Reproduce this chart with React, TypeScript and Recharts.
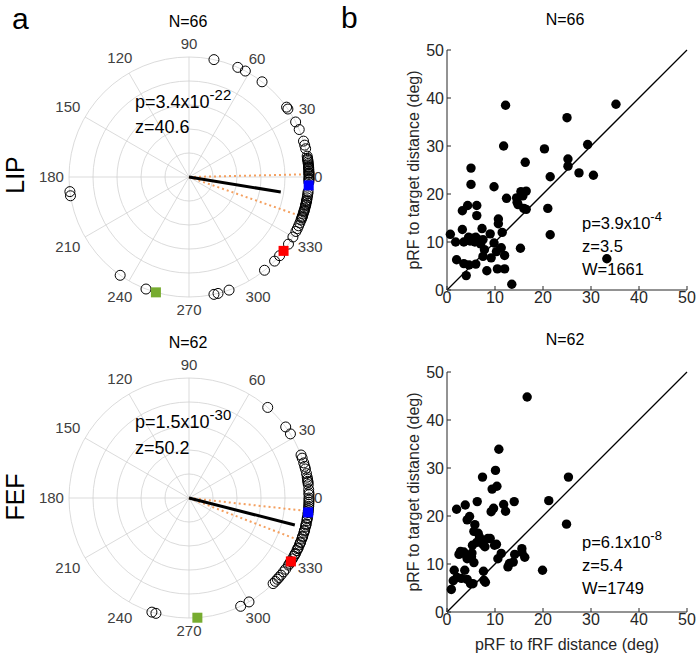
import React from 'react'
import {
  RadarChart, PolarGrid, PolarAngleAxis, PolarRadiusAxis,
  ScatterChart, Scatter, XAxis, YAxis, ReferenceLine, Label,
} from 'recharts'

const FONT = '"Liberation Sans", Arial, Helvetica, sans-serif'
const INK = '#262626'

// ---- panel a: preferred angle of every pRF (deg) ----
const thetaTicks = ['0', '30', '60', '90', '120', '150', '180', '210', '240', '270', '300', '330']
const ringRadii = [24, 48, 72, 96, 120]

const lipAngles = [
  78, 66, 62, 52.5, 35.6, 34.5, 27.3, 23.3, 17.4, 15.4, 13.6,
  10, 9, 8.5, 8, 7.3, 6.5, 5.8, 5, 4.6, 4.2, 3.5, 2.8, 2, 1.8, 1.2, 0.5, -0.5, -1, -1.5, -2.5,
  -7, -8, -9, -10, -11, -11.5, -12, -13, -13.5, -14, -15, -16, -16.5, -17, -18, -19, -19.5, -20, -21, -22.5, -24, -25.5, -27,
  -30, -34, -41, -44.5, -51, -70.5, -76, -78,
  187, 189, 235, 249,
]
const lipMean = [-9.3, 0.775] // angle, length
const lipCI = [1.3, -19.3]
const lipSquares = [-4, -38, 254] // blue, red, green

const fefAngles = [
  49, 36.3, 32.3, 21, 19.4, 17, 15.3, 14, 11.7, 10, 9, 8, 7.5, 6.4, 4, 2.5, 1.6, 0, -1, -2,
  -3, -4, -5, -6, -7, -8, -9.5, -10, -11, -12.5, -13, -14, -15.5, -16, -17, -18.5, -19, -20, -21.5, -22,
  -23, -24.5, -25, -26, -27.5, -28, -29, -30.5, -32, -33,
  -34, -36.4, -38, -40, -41.5, -42.6, -44, -45.5,
  -60, -64.5,
  252, 254,
]
const fefMean = [-14.3, 0.91]
const fefCI = [-6.3, -21]
const fefSquares = [-6.9, -31.9, 274]

const squareColors = ['#0000ff', '#ff0000', '#77ac30']

// ---- panel b: distances (deg) ----
const axisTicks = [0, 10, 20, 30, 40, 50]

const lipFrfDist = [
  0.7, 1.8, 2.0, 3.2, 3.2, 3.5, 3.5, 4.0, 4.3, 4.5,
  4.8, 4.6, 5.0, 5.0, 5.3, 5.8, 6.0, 6.2, 6.2, 6.0,
  6.5, 7.0, 7.3, 7.5, 7.5, 7.8, 8.3, 9.0, 9.2, 9.8,
  9.8, 10.3, 10.5, 10.7, 10.7, 11.3, 11.5, 11.8, 12.0, 12.0,
  12.2, 12.4, 13.5, 14.5, 14.6, 14.8, 15.3, 15.4, 15.8, 16.0,
  16.3, 16.5, 16.5, 20.3, 21.0, 21.5, 21.5, 25.0, 25.2, 25.2,
  27.5, 29.3, 30.5, 33.3, 35.2, 5.6,
]
const lipTargetDist = [
  11.6, 10.0, 6.3, 16.5, 12.6, 10.0, 5.5, 3.0, 17.6, 11.0,
  10.2, 5.2, 22.0, 25.4, 10.8, 10.0, 11.0, 17.6, 15.5, 5.4,
  10.5, 9.6, 12.8, 10.5, 7.0, 8.4, 4.0, 11.7, 6.7, 21.5,
  9.8, 8.0, 4.4, 14.8, 13.8, 8.8, 12.0, 30.0, 7.2, 4.4,
  38.5, 19.1, 1.2, 19.2, 18.3, 17.8, 8.7, 20.5, 19.6, 17.0,
  26.6, 20.6, 16.8, 29.4, 17.0, 11.5, 23.6, 35.9, 27.3, 25.8,
  24.4, 30.3, 23.9, 6.5, 38.7, 10.4,
]

const fefFrfDist = [
  0.9, 1.5, 1.3, 2.0, 2.1, 2.8, 3.0, 3.5, 3.7, 3.8,
  4.0, 4.2, 4.2, 4.2, 4.7, 4.9, 5.1, 5.2, 5.3, 5.4,
  5.6, 5.8, 5.6, 6.3, 6.5, 6.8, 7.2, 7.4, 7.5, 7.6,
  7.7, 7.9, 8.5, 9.0, 9.2, 9.4, 9.7, 10.1, 9.9, 10.3,
  10.4, 10.6, 10.8, 11.3, 11.8, 12.2, 12.7, 13.0, 13.8, 14.1,
  14.0, 15.6, 15.6, 16.2, 16.7, 19.9, 21.2, 24.9, 25.3, 2.5,
  6.2, 8.0,
]
const fefTargetDist = [
  4.7, 8.7, 6.5, 21.4, 7.2, 12.6, 7.0, 12.5, 8.7, 22.3,
  11.8, 11.1, 19.2, 6.8, 19.9, 5.9, 11.5, 12.3, 13.9, 5.9,
  10.3, 18.2, 16.8, 23.0, 16.4, 15.5, 15.0, 28.1, 14.1, 8.5,
  6.6, 13.6, 15.3, 15.3, 20.9, 25.6, 21.6, 29.5, 13.9, 14.1,
  26.2, 11.1, 33.9, 12.2, 22.4, 21.0, 9.4, 10.1, 10.4, 12.0,
  23.0, 13.2, 12.4, 11.4, 44.8, 8.7, 23.2, 18.3, 28.1, 12.0,
  14.5, 6.2,
]

// polar geometry
const BOX = 300
const C = 150
const R = 120

const toXY = (deg: number, r = 1) => ({
  x: r * Math.cos((deg * Math.PI) / 180),
  y: r * Math.sin((deg * Math.PI) / 180),
})

const ThetaTick = (props: any) => {
  const label = String(props.payload.value)
  const a = (Number(label) * Math.PI) / 180
  const r = 125 + Math.abs(Math.cos(a)) * label.length * 4.2 + Math.abs(Math.sin(a)) * 8
  return (
    <text x={C + r * Math.cos(a)} y={C - r * Math.sin(a)} dy="0.35em" textAnchor="middle"
      fontSize={15} fill="#404040" fontFamily={FONT}>
      {label}
    </text>
  )
}

const OpenCircle = (p: any) => (
  <circle cx={p.cx} cy={p.cy} r={5} fill="none" stroke="#000" strokeWidth={1} />
)

function PolarPanel({ left, top, angles, mean, ci, squares }: any) {
  const pts = angles.map((a: number) => toXY(a))
  const end = toXY(mean[0], mean[1])
  const ciEnds = ci.map((a: number) => toXY(a, 0.99))
  const sq = squares.map((a: number, i: number) => ({ ...toXY(a), fill: squareColors[i] }))

  return (
    <div style={{ position: 'absolute', left, top, width: BOX, height: BOX }}>
      <div style={{ position: 'absolute', left: 0, top: 0 }}>
        <RadarChart width={BOX} height={BOX} cx={C} cy={C} outerRadius={R} startAngle={0} endAngle={360}
          data={thetaTicks.map(t => ({ theta: t }))} margin={{ top: 0, right: 0, bottom: 0, left: 0 }}>
          <PolarGrid gridType="circle" polarRadius={ringRadii} stroke="#d2d2d2" strokeWidth={0.8} />
          <PolarAngleAxis dataKey="theta" tick={ThetaTick} tickLine={false} axisLine={false} />
          <PolarRadiusAxis domain={[0, 1]} tick={false} axisLine={false} />
        </RadarChart>
      </div>
      <div style={{ position: 'absolute', left: 0, top: 0 }}>
        <ScatterChart width={BOX} height={BOX} margin={{ top: C - R, right: C - R, bottom: C - R, left: C - R }}>
          <XAxis type="number" dataKey="x" domain={[-1, 1]} hide />
          <YAxis type="number" dataKey="y" domain={[-1, 1]} hide />
          {ciEnds.map((e: any, i: number) => (
            <ReferenceLine key={i} segment={[{ x: 0, y: 0 }, e]} ifOverflow="visible"
              stroke="#f4a060" strokeWidth={2} strokeDasharray="2 3" />
          ))}
          <ReferenceLine segment={[{ x: 0, y: 0 }, end]} ifOverflow="visible" stroke="#000" strokeWidth={3} />
          <Scatter data={pts} shape={OpenCircle} isAnimationActive={false} />
          <Scatter data={sq} isAnimationActive={false}
            shape={(p: any) => <rect x={p.cx - 5} y={p.cy - 5} width={10} height={10} fill={p.payload.fill} />} />
        </ScatterChart>
      </div>
    </div>
  )
}

const Dot = (p: any) => <circle cx={p.cx} cy={p.cy} r={4.7} fill="#000" />

const tickStyle = { fill: INK, fontSize: 16, fontFamily: FONT }

function DistPanel({ top, xs, ys, xLabel }: any) {
  const data = xs.map((x: number, i: number) => ({ x, y: ys[i] }))
  return (
    <div style={{ position: 'absolute', left: 390, top }}>
      <ScatterChart width={310} height={307} margin={{ top: 20, right: 13, bottom: 0, left: 0 }}>
        <XAxis type="number" dataKey="x" domain={[0, 50]} ticks={axisTicks} height={47}
          tick={tickStyle} axisLine={{ stroke: INK }} tickLine={{ stroke: INK }} tickSize={-4} tickMargin={6}>
          {xLabel && (
            <Label value={xLabel} position="insideBottom" offset={9}
              style={{ fill: INK, fontSize: 16, fontFamily: FONT }} />
          )}
        </XAxis>
        <YAxis type="number" dataKey="y" domain={[0, 50]} ticks={axisTicks} width={57}
          tick={tickStyle} axisLine={{ stroke: INK }} tickLine={{ stroke: INK }} tickSize={-4} tickMargin={7}>
          <Label value="pRF to target distance (deg)" angle={-90} position="insideLeft" offset={23}
            style={{ textAnchor: 'middle', fill: INK, fontSize: 16, fontFamily: FONT }} />
        </YAxis>
        <ReferenceLine segment={[{ x: 0, y: 0 }, { x: 50, y: 50 }]} stroke="#000" strokeWidth={1.3} />
        <Scatter data={data} shape={Dot} isAnimationActive={false} />
      </ScatterChart>
    </div>
  )
}

function StatText({ x, lines, size, supSize }: any) {
  return (
    <>
      {lines.map((l: any, i: number) => (
        <text key={i} x={x} y={l.y} fontSize={size} fill="#000" fontFamily={FONT}>
          {l.text}
          {l.sup && <tspan dy={-8} fontSize={supSize}>{l.sup}</tspan>}
        </text>
      ))}
    </>
  )
}

export default function App() {
  return (
    <div style={{ position: 'absolute', left: 0, top: 0, width: 700, height: 659, background: '#fff' }}>
      <PolarPanel left={189 - C} top={177 - C} angles={lipAngles} mean={lipMean} ci={lipCI} squares={lipSquares} />
      <PolarPanel left={189 - C} top={498 - C} angles={fefAngles} mean={fefMean} ci={fefCI} squares={fefSquares} />
      <DistPanel top={30} xs={lipFrfDist} ys={lipTargetDist} />
      <DistPanel top={352} xs={fefFrfDist} ys={fefTargetDist} xLabel="pRF to fRF distance (deg)" />

      <svg width={700} height={659} style={{ position: 'absolute', left: 0, top: 0, pointerEvents: 'none' }}>
        <g fontFamily={FONT} fill="#000">
          <text x={12} y={29} fontSize={30}>a</text>
          <text x={341} y={28} fontSize={30}>b</text>
          <text x={188} y={27} fontSize={16} textAnchor="middle">N=66</text>
          <text x={188} y={348} fontSize={16} textAnchor="middle">N=62</text>
          <text x={565} y={25} fontSize={16} textAnchor="middle">N=66</text>
          <text x={565} y={345} fontSize={16} textAnchor="middle">N=62</text>
          <text transform="translate(24,175) rotate(-90)" fontSize={25} textAnchor="middle">LIP</text>
          <text transform="translate(24,497) rotate(-90)" fontSize={25} textAnchor="middle">FEF</text>
        </g>
        <StatText x={135} size={18} supSize={15} lines={[
          { y: 108, text: 'p=3.4x10', sup: '-22' }, { y: 133, text: 'z=40.6' },
        ]} />
        <StatText x={135} size={18} supSize={15} lines={[
          { y: 428, text: 'p=1.5x10', sup: '-30' }, { y: 454, text: 'z=50.2' },
        ]} />
        <StatText x={582} size={16.5} supSize={13} lines={[
          { y: 229, text: 'p=3.9x10', sup: '-4' }, { y: 252, text: 'z=3.5' }, { y: 275, text: 'W=1661' },
        ]} />
        <StatText x={582} size={16.5} supSize={13} lines={[
          { y: 548, text: 'p=6.1x10', sup: '-8' }, { y: 571, text: 'z=5.4' }, { y: 594, text: 'W=1749' },
        ]} />
      </svg>
    </div>
  )
}
